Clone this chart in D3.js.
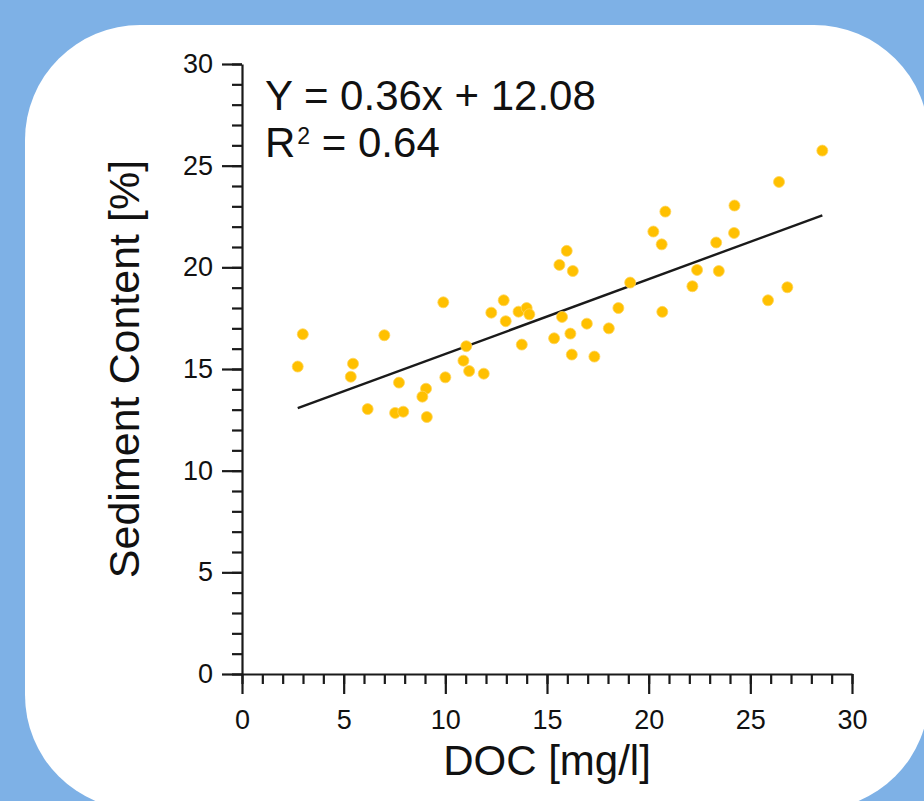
<!DOCTYPE html>
<html>
<head>
<meta charset="utf-8">
<script src="https://cdn.jsdelivr.net/npm/d3@7"></script>
<style>
  body { margin: 0; background: #7eb1e6; }
  svg { display: block; }
  text { font-family: "Liberation Sans", Arial, sans-serif; fill: #111; }
  .axis path, .axis line { stroke: #1a1a1a; stroke-width: 2.2; }
  .axis text { font-size: 27px; }
</style>
</head>
<body>
<script>
// data
var doc = [2.99, 2.74, 5.46, 5.35, 7.0, 6.18, 7.72, 7.53, 7.93, 9.05,
  8.87, 9.09, 9.90, 10.0, 10.89, 11.03, 11.17, 11.89, 12.26, 12.87,
  12.97, 13.60, 14.0, 14.13, 13.76, 15.74, 15.35, 15.97, 15.61, 16.27,
  16.15, 16.22, 16.96, 17.33, 18.04, 18.51, 19.09, 20.23, 20.64, 20.82,
  20.67, 22.15, 22.38, 23.32, 23.45, 24.20, 24.22, 25.87, 26.82, 26.41,
  28.54]
var sediment = [16.71, 15.12, 15.26, 14.62, 16.66, 13.03, 14.33, 12.84, 12.90, 14.03,
  13.64, 12.64, 18.28, 14.59, 15.41, 16.12, 14.90, 14.77, 17.77, 18.38,
  17.35, 17.82, 18.0, 17.69, 16.20, 17.56, 16.51, 20.81, 20.12, 19.82,
  16.74, 15.71, 17.23, 15.61, 17.0, 18.0, 19.25, 21.76, 21.13, 22.74,
  17.81, 19.07, 19.87, 21.22, 19.82, 21.69, 23.04, 18.38, 19.02, 24.20,
  25.74]
// ends of the fitted line as drawn
var fitX = [2.74, 28.54]
var fitY = [13.07, 22.56]
var majorTicks = [0, 5, 10, 15, 20, 25, 30]
var minorTicks = d3.range(0, 31, 1)
var equationText = "Y = 0.36x + 12.08"
var r2Text = "0.64"

var width = 924, height = 801

var svg = d3.select("body").append("svg")
    .attr("width", width)
    .attr("height", height)

// white card with big rounded corners
svg.append("rect")
    .attr("x", 25)
    .attr("y", 25)
    .attr("width", 904)
    .attr("height", 785)
    .attr("rx", 115)
    .attr("fill", "#fff")

var x = d3.scaleLinear().domain([0, 30]).range([242, 852])
var y = d3.scaleLinear().domain([0, 30]).range([674, 64])

// minor ticks first, then major ticks + domain line
svg.append("g")
    .attr("class", "axis")
    .attr("transform", "translate(0," + y(0) + ")")
    .call(d3.axisBottom(x).tickValues(minorTicks).tickSize(10).tickFormat(""))
    .select(".domain").remove()

svg.append("g")
    .attr("class", "axis")
    .attr("transform", "translate(0," + y(0) + ")")
    .call(d3.axisBottom(x).tickValues(majorTicks).tickSize(20).tickSizeOuter(0).tickPadding(16))

svg.append("g")
    .attr("class", "axis")
    .attr("transform", "translate(" + x(0) + ",0)")
    .call(d3.axisLeft(y).tickValues(minorTicks).tickSize(10).tickFormat(""))
    .select(".domain").remove()

svg.append("g")
    .attr("class", "axis")
    .attr("transform", "translate(" + x(0) + ",0)")
    .call(d3.axisLeft(y).tickValues(majorTicks).tickSize(20).tickSizeOuter(0).tickPadding(9))

svg.selectAll(".axis text").attr("fill", "#111")

// axis titles
svg.append("text")
    .attr("x", (x(0) + x(30)) / 2)
    .attr("y", 775)
    .attr("text-anchor", "middle")
    .style("font-size", "42px")
    .text("DOC [mg/l]")

svg.append("text")
    .attr("transform", "translate(139," + (y(0) + y(30)) / 2 + ") rotate(-90)")
    .attr("text-anchor", "middle")
    .style("font-size", "43px")
    .text("Sediment Content [%]")

// regression line
var fit = fitX.map(function(d, i) { return [d, fitY[i]] })
svg.append("path")
    .datum(fit)
    .attr("fill", "none")
    .attr("stroke", "#1a1a1a")
    .attr("stroke-width", 2.4)
    .attr("d", d3.line()
        .x(function(d) { return x(d[0]) })
        .y(function(d) { return y(d[1]) }))

// points
var points = doc.map(function(d, i) { return { doc: d, sed: sediment[i] } })
svg.selectAll(".dot")
    .data(points)
  .enter().append("circle")
    .attr("class", "dot")
    .attr("cx", function(d) { return x(d.doc) })
    .attr("cy", function(d) { return y(d.sed) })
    .attr("r", 5.5)
    .attr("fill", "#ffc000")
    .attr("stroke", "#ffd45a")
    .attr("stroke-width", 0.8)

// equation
svg.append("text")
    .attr("x", 265)
    .attr("y", 110)
    .style("font-size", "42px")
    .text(equationText)

var r2 = svg.append("text")
    .attr("x", 265)
    .attr("y", 157)
    .style("font-size", "42px")
r2.append("tspan").text("R")
r2.append("tspan")
    .attr("dx", 2)
    .attr("dy", -13)
    .style("font-size", "23px")
    .text("2")
r2.append("tspan")
    .attr("dy", 13)
    .style("font-size", "42px")
    .text(" = " + r2Text)
</script>
</body>
</html>
